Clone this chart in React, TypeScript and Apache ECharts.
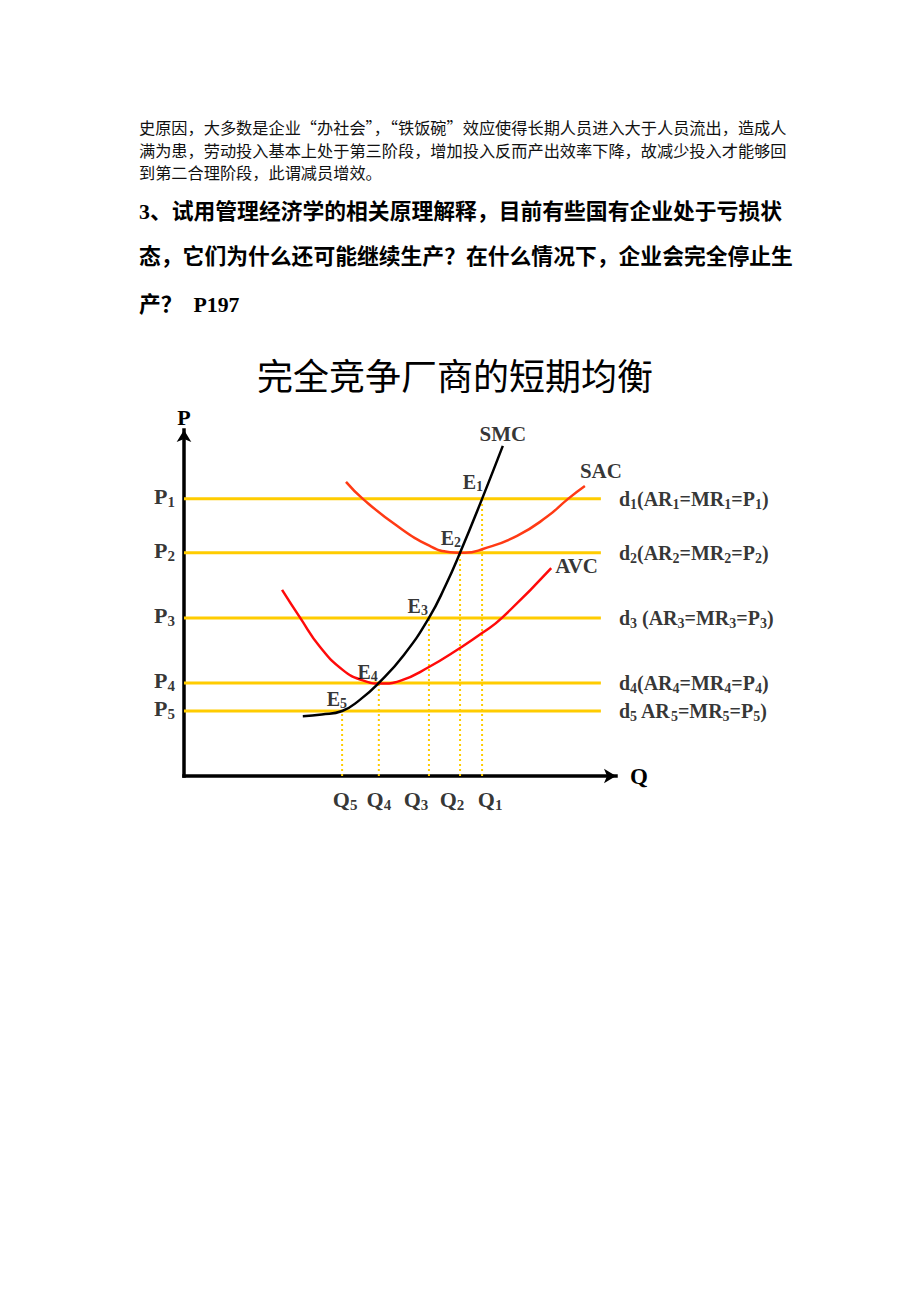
import React, { useEffect, useRef } from "react";
import * as echarts from "echarts";

// ---------- text content ----------
const PARAGRAPH_LINES = [
  "史原因，大多数是企业“办社会”，“铁饭碗”效应使得长期人员进入大于人员流出，造成人",
  "满为患，劳动投入基本上处于第三阶段，增加投入反而产出效率下降，故减少投入才能够回",
  "到第二合理阶段，此谓减员增效。",
];
const HEADING_LINES = [
  "3、试用管理经济学的相关原理解释，目前有些国有企业处于亏损状",
  "态，它们为什么还可能继续生产？在什么情况下，企业会完全停止生",
  "产？  P197",
];
const TITLE = "完全竞争厂商的短期均衡";

// ---------- chart data (arbitrary units: Q 0..100, P 0..100) ----------
// index 0 -> level 1 (P1/Q1/E1/d1), ... index 4 -> level 5
const PRICE_LEVELS = [80.1, 64.5, 45.7, 26.9, 18.8];
const QUANTITIES = [69.0, 63.9, 56.7, 45.1, 36.6];
const PRICE_LINE_END = 96.5;
const DEMAND_OPEN = ["(", "(", " (", "(", " "];

const SMC: number[][] = [
  [27.5, 17.3], [31.9, 17.8], [36.6, 18.8], [40.7, 22.0], [45.1, 26.9],
  [50.9, 35.0], [56.7, 45.7], [60.6, 55.2], [63.9, 64.5], [69.0, 80.1],
  [73.8, 95.4],
];
const SAC: number[][] = [
  [37.5, 85.0], [41.4, 80.1], [49.3, 72.3], [56.9, 66.5], [61.6, 64.7],
  [65.0, 64.5], [69.2, 65.6], [77.1, 69.4], [84.0, 74.9], [88.9, 80.1],
  [92.8, 83.8],
];
const AVC: number[][] = [
  [22.7, 53.8], [26.9, 45.7], [31.5, 37.3], [36.8, 30.6], [41.2, 27.7],
  [45.6, 26.7], [50.0, 27.5], [56.7, 31.5], [63.9, 37.0], [69.0, 41.3],
  [73.6, 45.7], [85.0, 60.1],
];

// ---------- styles ----------
const SERIF = "'Liberation Serif', 'Times New Roman', serif";
const CJK = "'Noto Sans CJK SC', 'Noto Sans', sans-serif";
const HEAD_FONT = "'Liberation Serif', 'Noto Sans CJK SC', serif";
const YELLOW = "#FFCC00";
const E_OFFSETS = [[1, -2], [1, 0], [-1, 3], [-1, 4], [5, 3]];
const Q_LABEL_SHIFT = [8, -8, -13, 0, 3];

function rich(main: number, sub: number, lh: number) {
  return {
    m: { fontFamily: SERIF, fontWeight: "bold", fontSize: main, color: "#000", lineHeight: lh },
    s: { fontFamily: SERIF, fontWeight: "bold", fontSize: sub, color: "#000", lineHeight: sub, verticalAlign: "bottom" },
  };
}

function buildOption() {
  const levels = PRICE_LEVELS.map((p, i) => ({ p, q: QUANTITIES[i], n: i + 1 }));
  const hidden = { color: "rgba(0,0,0,0)" };

  const series: any[] = [];

  levels.forEach((l) => {
    series.push({
      type: "line",
      name: "d" + l.n,
      data: [[0, l.p], [PRICE_LINE_END, l.p]],
      symbol: "none",
      lineStyle: { color: YELLOW, width: 3 },
      z: 2,
      silent: true,
    });
    series.push({
      type: "line",
      name: "q" + l.n,
      data: [[l.q, 0], [l.q, l.p]],
      symbol: "none",
      lineStyle: { color: YELLOW, width: 2, type: [2, 3] },
      z: 2,
      silent: true,
    });
  });

  const curve = (name: string, data: number[][], color: string) => ({
    type: "line",
    name,
    data,
    smooth: 0.5,
    symbol: "none",
    lineStyle: { color, width: 2.5 },
    z: 5,
    silent: true,
  });
  series.push(curve("SAC", SAC, "#ff3a14"));
  series.push(curve("AVC", AVC, "#ff0a0a"));
  series.push(curve("SMC", SMC, "#000000"));

  // P labels on the vertical axis
  series.push({
    type: "scatter",
    name: "pLabels",
    symbolSize: 0,
    itemStyle: hidden,
    silent: true,
    z: 10,
    data: levels.map((l) => ({
      value: [0, l.p],
      label: { formatter: `{m|P}{s|${l.n}}` },
    })),
    label: { show: true, position: "left", distance: 9, offset: [0, -2], rich: rich(22, 15, 26) },
  });

  // Q labels under the horizontal axis
  series.push({
    type: "scatter",
    name: "qLabels",
    symbolSize: 0,
    itemStyle: hidden,
    silent: true,
    z: 10,
    data: levels.map((l, i) => ({
      value: [l.q, 0],
      label: { formatter: `{m|Q}{s|${l.n}}`, offset: [Q_LABEL_SHIFT[i], 0] },
    })),
    label: { show: true, position: "bottom", distance: 10, rich: rich(22, 15, 26) },
  });

  // E labels at the equilibria
  series.push({
    type: "scatter",
    name: "eLabels",
    symbolSize: 0,
    itemStyle: hidden,
    silent: true,
    z: 10,
    data: levels.map((l, i) => ({
      value: [l.q, l.p],
      label: { formatter: `{m|E}{s|${l.n}}`, offset: E_OFFSETS[i] },
    })),
    label: { show: true, position: "top", align: "right", distance: 3, rich: rich(20, 14, 24) },
  });

  // demand-line labels on the right
  series.push({
    type: "scatter",
    name: "dLabels",
    symbolSize: 0,
    itemStyle: hidden,
    silent: true,
    z: 10,
    data: levels.map((l, i) => ({
      value: [PRICE_LINE_END, l.p],
      label: {
        formatter: `{m|d}{s|${l.n}}{m|${DEMAND_OPEN[i]}AR}{s|${l.n}}{m|=MR}{s|${l.n}}{m|=P}{s|${l.n}}{m|)}`,
      },
    })),
    label: { show: true, position: "right", distance: 18, offset: [0, 0], rich: rich(20, 14, 26) },
  });

  // curve names at their ends
  const nameStyle = { fontFamily: SERIF, fontWeight: "bold", fontSize: 21, color: "#000" };
  series.push({
    type: "scatter",
    name: "curveNames",
    symbolSize: 0,
    itemStyle: hidden,
    silent: true,
    z: 10,
    data: [
      { value: SMC[SMC.length - 1], label: { formatter: "SMC", position: "top", distance: 1 } },
      { value: SAC[SAC.length - 1], label: { formatter: "SAC", position: "top", align: "left", distance: 5, offset: [-5, 0] } },
      { value: AVC[AVC.length - 1], label: { formatter: "AVC", position: "right", distance: 4, offset: [0, -2] } },
    ],
    label: { show: true, ...nameStyle },
  });

  const axisBase = {
    type: "value",
    min: 0,
    max: 100,
    axisTick: { show: false },
    axisLabel: { show: false },
    splitLine: { show: false },
    axisLine: {
      show: true,
      onZero: false,
      symbol: ["none", "arrow"],
      symbolSize: [11, 12],
      lineStyle: { color: "#000", width: 3.5, cap: "square" },
    },
    nameLocation: "end",
  };

  const graphic: any[] = [];
  const paraY = [127, 150, 172];
  PARAGRAPH_LINES.forEach((t, i) => {
    graphic.push({
      type: "text",
      x: 139,
      y: paraY[i],
      silent: true,
      style: { text: t, fontFamily: CJK, fontSize: 16.2, fill: "#111", align: "left", verticalAlign: "middle" },
    });
  });
  const headY = [212, 257, 305];
  HEADING_LINES.forEach((t, i) => {
    graphic.push({
      type: "text",
      x: 139,
      y: headY[i],
      silent: true,
      style: { text: t, fontFamily: HEAD_FONT, fontWeight: "bold", fontSize: 21.8, fill: "#000", align: "left", verticalAlign: "middle" },
    });
  });
  graphic.push({
    type: "text",
    x: 455,
    y: 374,
    silent: true,
    style: { text: TITLE, fontFamily: CJK, fontSize: 36, fill: "#000", align: "center", verticalAlign: "middle" },
  });

  return {
    animation: false,
    backgroundColor: "#ffffff",
    grid: { left: 184, right: 304, top: 430, bottom: 526, containLabel: false, outerBoundsMode: "none" },
    xAxis: {
      ...axisBase,
      name: "Q",
      nameGap: 14,
      nameTextStyle: { fontFamily: SERIF, fontWeight: "bold", fontSize: 23, color: "#000", padding: [8, 0, 0, 0] },
    },
    yAxis: {
      ...axisBase,
      name: "P",
      nameGap: 2,
      nameTextStyle: { fontFamily: SERIF, fontWeight: "bold", fontSize: 22, color: "#000", align: "center" },
    },
    series,
    graphic,
  };
}

export default function App() {
  const ref = useRef<HTMLDivElement>(null);
  useEffect(() => {
    if (!ref.current) return;
    const chart = echarts.init(ref.current, undefined, { renderer: "svg" });
    chart.setOption(buildOption() as any);
    return () => chart.dispose();
  }, []);
  return (
    <div
      ref={ref}
      style={{ position: "absolute", left: 0, top: 0, width: 920, height: 1302, background: "#fff" }}
    />
  );
}
